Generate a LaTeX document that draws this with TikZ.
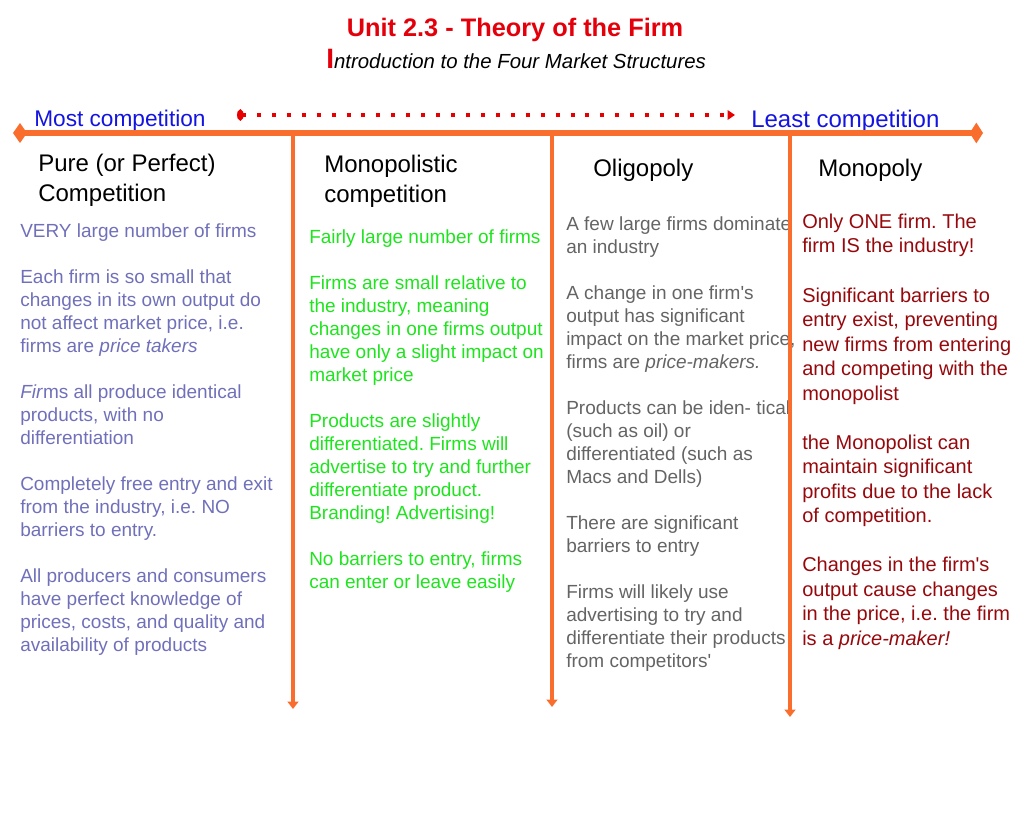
\documentclass[tikz,border=0pt]{standalone}
\usepackage{fontspec}
\setmainfont{Liberation Sans}
\usetikzlibrary{arrows.meta}
\frenchspacing

\definecolor{axisorange}{RGB}{250,110,45}
\definecolor{titlered}{RGB}{228,0,10}
\definecolor{dotred}{RGB}{232,0,0}
\definecolor{labelblue}{RGB}{20,20,225}
\definecolor{purecol}{RGB}{112,112,186}
\definecolor{monocompcol}{RGB}{30,228,30}
\definecolor{oligocol}{RGB}{100,100,100}
\definecolor{monocol}{RGB}{150,8,12}

% multi-line nodes: base anchor sits on the last line
\tikzset{
  heading/.style={anchor=base west, inner sep=0pt, align=left, font=\fontsize{18}{22.5}\selectfont},
  colbody/.style={anchor=base west, inner sep=0pt, align=left, font=\fontsize{14.25}{17.25}\selectfont},
  divider/.style={draw=axisorange, line width=3pt, -{Triangle[length=5.5pt,width=8pt]}},
}

\begin{document}
\begin{tikzpicture}[x=0.75pt,y=0.75pt,yscale=-1,xscale=1]
\useasboundingbox (0,0) rectangle (1023,817);

    % Text Node
    \node (title) [anchor=base, inner sep=0pt, text=titlered, font=\fontsize{19}{23}\selectfont\bfseries] at (515,37) {Unit 2.3 - Theory of the Firm};
    % Text Node
    \node (subtitle) [anchor=base west, inner sep=0pt, font=\fontsize{15.3}{18}\selectfont\itshape] at (326,69) {{\color{titlered}\upshape\bfseries\fontsize{21}{21}\selectfont I}ntroduction to the Four Market Structures};

    % Text Node
    \node (mostcomp) [anchor=base west, inner sep=0pt, text=labelblue, font=\fontsize{17}{20}\selectfont] at (34,126) {Most competition};
    % Text Node
    \node (leastcomp) [anchor=base west, inner sep=0pt, text=labelblue, font=\fontsize{18}{21}\selectfont] at (751,127) {Least competition};

    % Text Node
    \node (purehead) [heading] at (38,201) {Pure (or Perfect)\\Competition};
    % Text Node
    \node (monocomphead) [heading] at (324,202) {Monopolistic\\competition};
    % Text Node
    \node (oligohead) [heading] at (593,176) {Oligopoly};
    % Text Node
    \node (monohead) [heading] at (818,176) {Monopoly};

    % Text Node
    \node (purebody) [colbody, text=purecol] at (20,651) {VERY large number of firms\\[17.25pt]
      Each firm is so small that\\changes in its own output do\\not affect market price, i.e.\\firms are \textit{price takers}\\[17.25pt]
      \textit{Fir}ms all produce identical\\products, with no\\differentiation\\[17.25pt]
      Completely free entry and exit\\from the industry, i.e. NO\\barriers to entry.\\[17.25pt]
      All producers and consumers\\have perfect knowledge of\\prices, costs, and quality and\\availability of products};
    % Text Node
    \node (monocompbody) [colbody, text=monocompcol] at (309,588) {Fairly large number of firms\\[17.25pt]
      Firms are small relative to\\the industry, meaning\\changes in one firms output\\have only a slight impact on\\market price\\[17.25pt]
      Products are slightly\\differentiated. Firms will\\advertise to try and further\\differentiate product.\\Branding! Advertising!\\[17.25pt]
      No barriers to entry, firms\\can enter or leave easily};
    % Text Node
    \node (oligobody) [colbody, text=oligocol] at (566,667) {A few large firms dominate\\an industry\\[17.25pt]
      A change in one firm\textquotesingle s\\output has significant\\impact on the market price,\\firms are \textit{price-makers.}\\[17.25pt]
      Products can be iden- tical\\(such as oil) or\\differentiated (such as\\Macs and Dells)\\[17.25pt]
      There are significant\\barriers to entry\\[17.25pt]
      Firms will likely use\\advertising to try and\\differentiate their products\\from competitors\textquotesingle};
    % Text Node
    \node (monobody) [colbody, text=monocol, font=\fontsize{15}{18.4}\selectfont] at (802,645.5) {Only ONE firm. The\\firm IS the industry!\\[18.4pt]
      Significant barriers to\\entry exist, preventing\\new firms from entering\\and competing with the\\monopolist\\[18.4pt]
      the Monopolist can\\maintain significant\\profits due to the lack\\of competition.\\[18.4pt]
      Changes in the firm\textquotesingle s\\output cause changes\\in the price, i.e. the firm\\is a \textit{price-maker!}};

    %Straight Lines
    \coordinate (dotstart) at (237,115);
    \coordinate (dotend) at (735,115);
    \draw [dotred, line width=3pt, dash pattern=on 3pt off 8.2pt, {Ellipse[length=5pt,width=8pt]}-{Triangle[length=5.5pt,width=7pt]}] (dotstart) -- (dotend);

    %Straight Lines
    \coordinate (axisL) at (13,133);
    \coordinate (axisR) at (983,133);
    \draw [draw=axisorange, line width=5pt, {Diamond[length=10.5pt,width=15pt]}-{Diamond[length=10pt,width=15.5pt]}] (axisL) -- (axisR);

    %Straight Lines
    \coordinate (div1top) at (293,133);
    \coordinate (div1bot) at (293,709);
    \coordinate (div2top) at (552,133);
    \coordinate (div2bot) at (552,707);
    \coordinate (div3top) at (790,133);
    \coordinate (div3bot) at (790,717);
    \draw [divider] (div1top) -- (div1bot);
    \draw [divider] (div2top) -- (div2bot);
    \draw [divider] (div3top) -- (div3bot);

\end{tikzpicture}
\end{document}
